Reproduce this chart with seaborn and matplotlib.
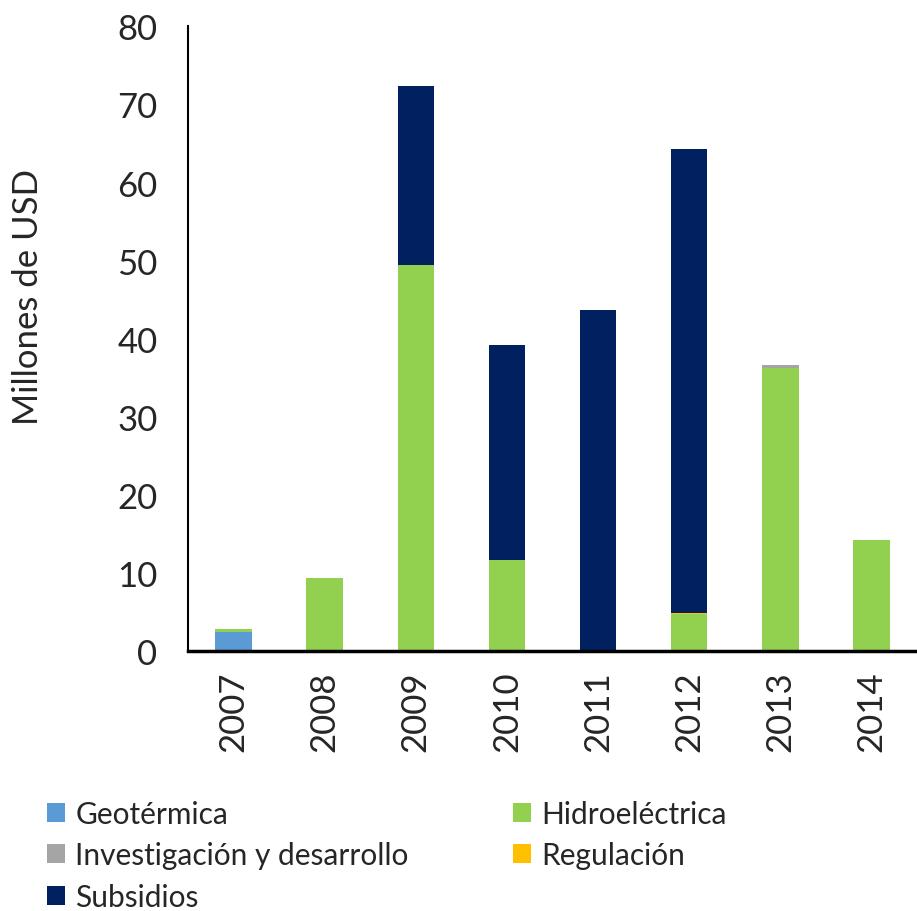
import numpy as np
import pandas as pd
import matplotlib
matplotlib.use("Agg")
import matplotlib.pyplot as plt
from matplotlib.patches import Patch
import seaborn as sns

years = ["2007", "2008", "2009", "2010", "2011", "2012", "2013", "2014"]
geotermica = [2.5, 0, 0, 0, 0, 0, 0, 0]
hidroelectrica = [0.3, 9.3, 49.4, 11.7, 0, 4.7, 36.2, 14.2]
investigacion = [0, 0, 0, 0, 0, 0, 0.4, 0]
regulacion = [0, 0, 0, 0, 0, 0.2, 0, 0]
subsidios = [0, 0, 22.9, 27.5, 43.7, 59.4, 0, 0]

series = ["Geotérmica", "Hidroeléctrica", "Investigación y desarrollo", "Regulación", "Subsidios"]
colors = ["#5B9BD5", "#92D050", "#A5A5A5", "#FFC000", "#002060"]

sns.set_style("white")
plt.rcParams["font.family"] = ["Lato", "DejaVu Sans"]

df = pd.DataFrame({
    "year": years,
    "Geotérmica": geotermica,
    "Hidroeléctrica": hidroelectrica,
    "Investigación y desarrollo": investigacion,
    "Regulación": regulacion,
    "Subsidios": subsidios,
})
cum = df[series].cumsum(axis=1)

fig = plt.figure(figsize=(9.17, 9.12), dpi=100)
ax = fig.add_axes([0.205, 0.285, 0.795, 0.685])

# draw cumulative totals from top down so each layer shows as a stacked segment
for name, col in reversed(list(zip(series, colors))):
    sns.barplot(x=df["year"], y=cum[name], color=col, width=0.4,
                saturation=1, ax=ax, linewidth=0)

ax.set_ylim(0, 80)
ax.set_yticks(range(0, 81, 10))
ax.set_xlim(-0.5, 7.5)
ax.set_xlabel("")
ax.set_ylabel("Millones de USD", fontsize=25)
ax.yaxis.set_label_coords(-0.198, 0.568)
ax.tick_params(axis="y", labelsize=25, length=0, pad=22)
ax.tick_params(axis="x", labelsize=25, length=0, labelrotation=90, pad=14)
for s in ["top", "right"]:
    ax.spines[s].set_visible(False)
ax.spines["left"].set_color("black")
ax.spines["left"].set_linewidth(1.5)
ax.spines["bottom"].set_color("black")
ax.spines["bottom"].set_linewidth(2.5)

# legend reads row by row: reorder for matplotlib's column-major filling
order = [0, 2, 4, 1, 3]
handles = [Patch(facecolor=colors[i], edgecolor="none") for i in order]
labels = [series[i] for i in order]
fig.legend(handles, labels, loc="upper left", bbox_to_anchor=(0.038, 0.135),
           ncol=2, frameon=False, fontsize=21.5, handlelength=0.6, handleheight=0.6,
           handletextpad=0.35, columnspacing=3.5, labelspacing=0.45,
           borderaxespad=0)

fig.savefig("out.png", dpi=100)
